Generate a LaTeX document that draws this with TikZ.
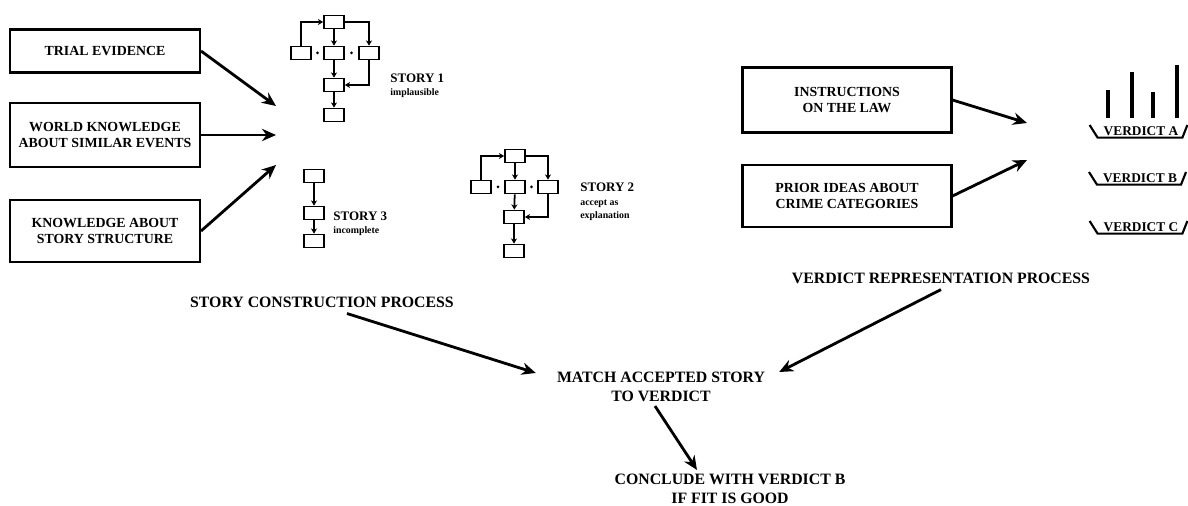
\documentclass[tikz,border=0pt]{standalone}
\usepackage{fontspec}
\setmainfont{Liberation Serif}
\usetikzlibrary{calc,arrows.meta}

\tikzset{
  inbox/.style={draw=black,line width=1.2pt,minimum width=3.8cm,align=center,font=\fontsize{7.9}{9.6}\selectfont\bfseries},
  proc/.style={align=center,font=\fontsize{9}{10.8}\selectfont\bfseries},
  sbox/.style={draw=black,line width=1pt,minimum width=0.4cm,minimum height=0.26cm,inner sep=0pt},
  slabel/.style={anchor=west,align=left,inner sep=0pt,font=\fontsize{7.4}{7.6}\selectfont\bfseries},
  sarr/.style={line width=1pt,-{Stealth[length=3pt,width=3.5pt]}},
  arr/.style={line width=1.6pt,-{Stealth[length=8pt,width=7pt]}},
  verd/.style={inner sep=1pt,font=\fontsize{7.6}{8}\selectfont\bfseries},
  tray/.style={line width=1.2pt},
  bar/.style={line width=2.4pt}
}
\newcommand{\sub}[1]{{\fontsize{5.6}{6.4}\selectfont #1}}

\begin{document}
\begin{tikzpicture}[x=0.02cm,y=-0.02cm]
\useasboundingbox (0,0) rectangle (1188,506);

% input boxes, left
\node[inbox,minimum height=0.86cm] (ev) at (105,51) {TRIAL EVIDENCE};
\node[inbox,minimum height=1.28cm] (wk) at (105,135) {WORLD KNOWLEDGE\\ABOUT SIMILAR EVENTS};
\node[inbox,minimum height=1.24cm] (ks) at (105,231) {KNOWLEDGE ABOUT\\STORY STRUCTURE};
\coordinate (inA) at (276,106);
\coordinate (inB) at (276,135);
\coordinate (inC) at (276,165);
\draw[arr] (ev.east) -- (inA);
\draw[arr] (wk.east) -- (inB);
\draw[arr] (ks.east) -- (inC);

% story 1
\node[sbox] (s1t) at (334,22) {};
\node[sbox] (s1l) at (301,53) {};
\node[sbox] (s1m) at (334,53) {};
\node[sbox] (s1r) at (369,53) {};
\node[sbox] (s1d) at (334,85) {};
\node[sbox] (s1e) at (334,115) {};
\draw[sarr] (s1l.north) |- (s1t.west);
\draw[sarr] (s1t.east) -| (s1r.north);
\draw[sarr] (s1t) -- (s1m);
\draw[sarr] (s1m) -- (s1d);
\draw[sarr] (s1r.south) |- (s1d.east);
\draw[sarr] (s1d) -- (s1e);
\fill ($(s1l.east)!0.5!(s1m.west)$) circle (1.5);
\fill ($(s1m.east)!0.5!(s1r.west)$) circle (1.5);
\node[slabel] (st1) at (390,86) {STORY 1\\\sub{implausible}};

% story 2
\node[sbox] (s2t) at (515,156) {};
\node[sbox] (s2l) at (481,187) {};
\node[sbox] (s2m) at (515,187) {};
\node[sbox] (s2r) at (548,187) {};
\node[sbox] (s2d) at (514,217) {};
\node[sbox] (s2e) at (514,251) {};
\draw[sarr] (s2l.north) |- (s2t.west);
\draw[sarr] (s2t.east) -| (s2r.north);
\draw[sarr] (s2t) -- (s2m);
\draw[sarr] (s2m) -- (s2d);
\draw[sarr] (s2r.south) |- (s2d.east);
\draw[sarr] (s2d) -- (s2e);
\fill ($(s2l.east)!0.5!(s2m.west)$) circle (1.5);
\fill ($(s2m.east)!0.5!(s2r.west)$) circle (1.5);
\node[slabel] (st2) at (580,202) {STORY 2\\\sub{accept as}\\\sub{explanation}};

% story 3
\node[sbox] (s3a) at (314,176) {};
\node[sbox] (s3b) at (314,213) {};
\node[sbox] (s3c) at (314,241) {};
\draw[sarr] (s3a) -- (s3b);
\draw[sarr] (s3b) -- (s3c);
\node[slabel] (st3) at (333,224) {STORY 3\\\sub{incomplete}};

% input boxes, right
\node[inbox,minimum width=4.18cm,minimum height=1.3cm] (ins) at (847,100) {INSTRUCTIONS\\ON THE LAW};
\node[inbox,minimum width=4.18cm,minimum height=1.24cm] (pri) at (847,196) {PRIOR IDEAS ABOUT\\CRIME CATEGORIES};
\coordinate (inD) at (1027,123);
\coordinate (inE) at (1027,160);
\draw[arr] (ins.east) -- (inD);
\draw[arr] (pri.east) -- (inE);

% verdicts
\draw[bar] (1108,90) -- (1108,118);
\draw[bar] (1132,72) -- (1132,118);
\draw[bar] (1153,92) -- (1153,118);
\draw[bar] (1177,65) -- (1177,118);
\node[verd] (vA) at (1141,131) {VERDICT A};
\node[verd] (vB) at (1140,178) {VERDICT B};
\node[verd] (vC) at (1141,227) {VERDICT C};
\foreach \v in {vA,vB,vC}
  \draw[tray] ($(\v.west)+(-12,-6)$) -- ($(\v.south west)+(-4,0)$) -- ($(\v.south east)+(2,0)$) -- ($(\v.east)+(7,-6)$);

% processes
\node[proc] (scp) at (322,302) {STORY CONSTRUCTION PROCESS};
\node[proc] (vrp) at (941,278) {VERDICT REPRESENTATION PROCESS};
\node[proc] (match) at (661,387) {MATCH ACCEPTED STORY\\TO VERDICT};
\node[proc] (concl) at (730,489) {CONCLUDE WITH VERDICT B\\IF FIT IS GOOD};
\draw[arr] ($(scp.south)+(25,0)$) -- ($(match.west)+(-15,-14)$);
\draw[arr] (vrp.south) -- ($(match.east)+(8,-15)$);
\draw[arr] ($(match.south)+(-6,-2)$) -- ($(concl.north)+(-33,2)$);

\end{tikzpicture}
\end{document}
